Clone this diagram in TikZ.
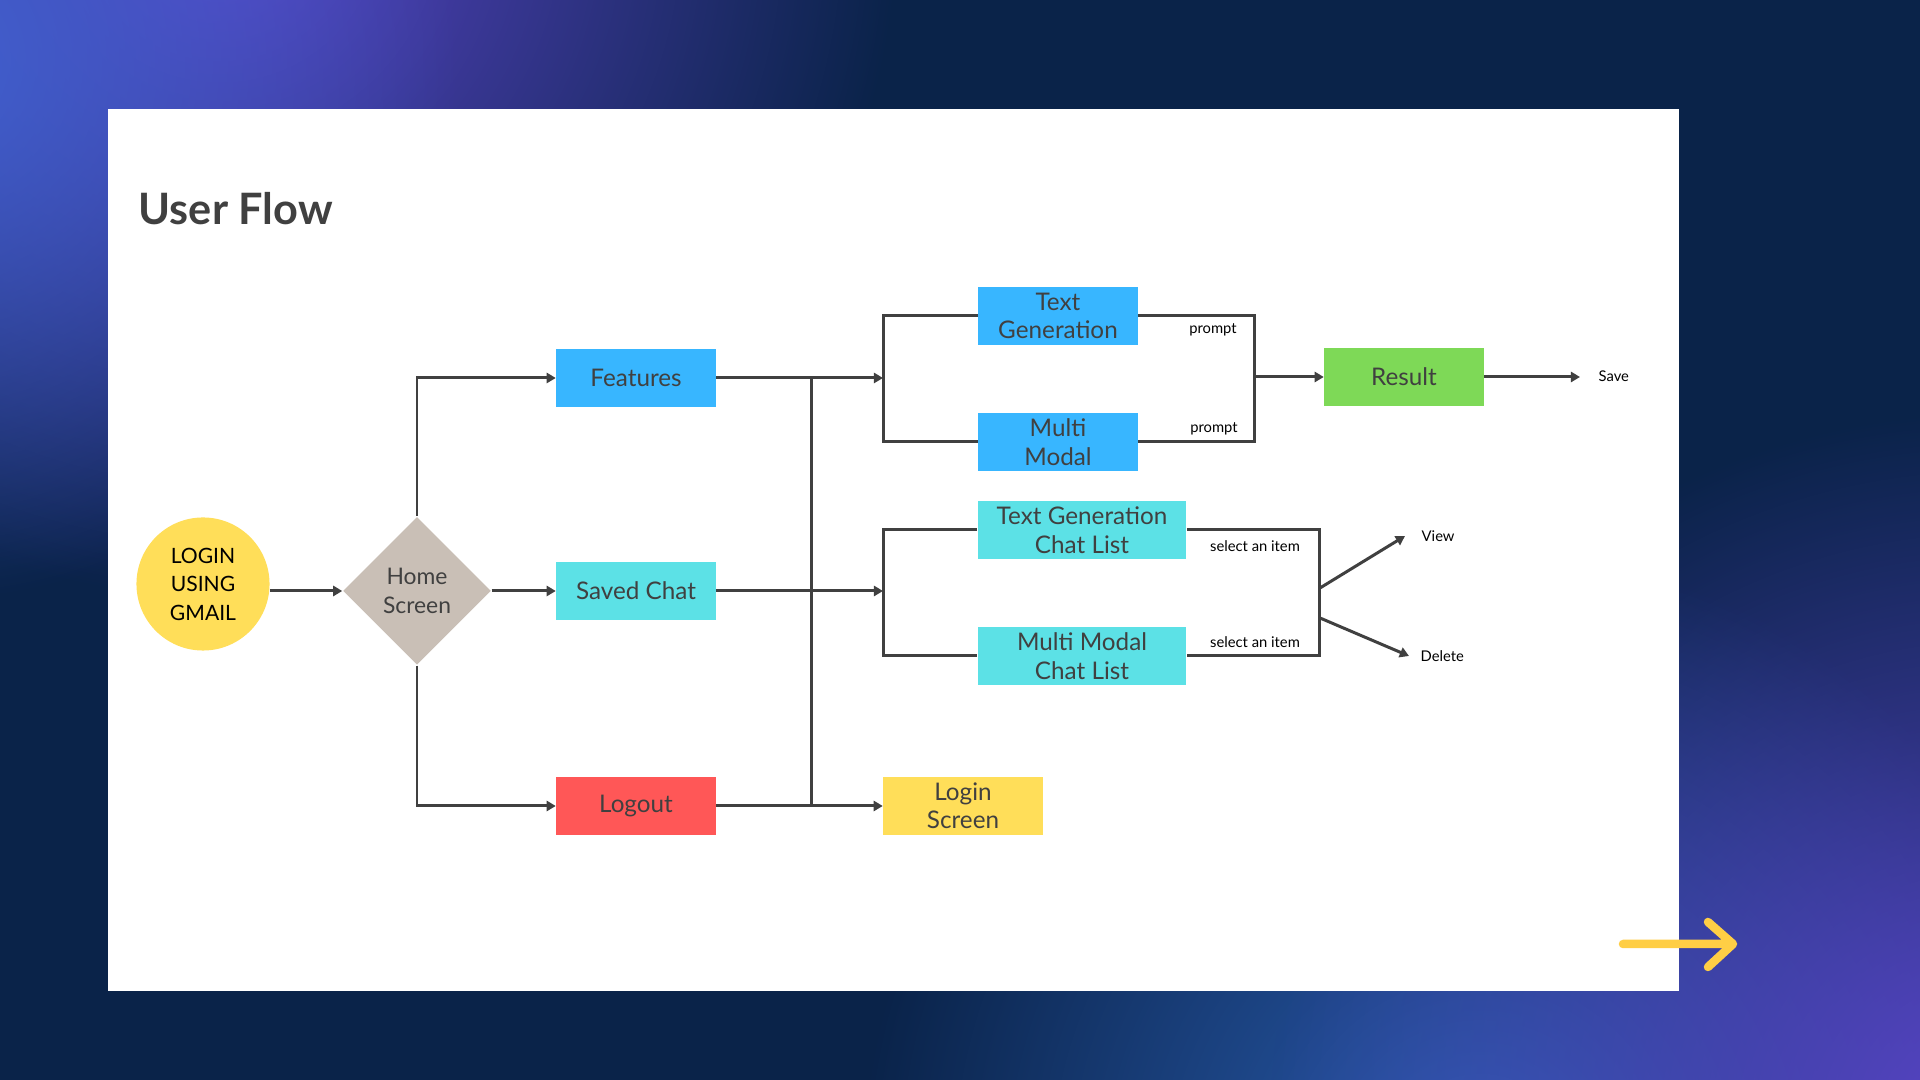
\documentclass[tikz,border=0pt]{standalone}
\usepackage{fontspec}
\setmainfont{Lato}
\usepackage{xcolor}
\usepackage{tikz}
\usetikzlibrary{positioning,arrows.meta,shapes.geometric,fadings}

\definecolor{navybg}{HTML}{0A2349}
\definecolor{glowviolet}{HTML}{5A45C8}
\definecolor{glowblue}{HTML}{4262D2}
\definecolor{glowdeep}{HTML}{2A5DB0}
\definecolor{inkgray}{HTML}{404040}
\definecolor{featblue}{HTML}{38B6FF}
\definecolor{chatcyan}{HTML}{5CE1E6}
\definecolor{logoutred}{HTML}{FF5757}
\definecolor{loginyellow}{HTML}{FFDE59}
\definecolor{resultgreen}{HTML}{7ED957}
\definecolor{homebeige}{HTML}{C9BFB6}
\definecolor{arrowyellow}{HTML}{FFCE45}
\tikzfading[name=glowfade, inner color=transparent!0, outer color=transparent!100]

\begin{document}
\begin{tikzpicture}[x=0.01cm, y=-0.01cm,
	box/.style={rectangle, fill=#1, text=inkgray, minimum width=1.59cm,
		minimum height=0.58cm, inner sep=0pt, align=center,
		font=\fontsize{6.9}{8.1}\selectfont},
	chatbox/.style={box=chatcyan, minimum width=2.08cm},
	line/.style={draw=inkgray, line width=0.85pt},
	flow/.style={line, -{Triangle[length=2.6pt,width=2.9pt]}},
	note/.style={font=\fontsize{4.2}{5}\selectfont, text=black, inner sep=0pt}]
		\useasboundingbox (0,0) rectangle (1920,1080);
		% backdrop with corner glows
		\fill[navybg] (0,0) rectangle (1920,1080);
		\begin{scope}
			\clip (0,0) rectangle (1920,1080);
			\fill[glowviolet, path fading=glowfade] (220,-80) circle (680);
			\fill[glowblue, path fading=glowfade] (-80,60) circle (540);
			\fill[glowdeep, path fading=glowfade] (1480,1170) circle (620);
			\fill[glowviolet, path fading=glowfade] (1990,1130) circle (720);
		\end{scope}
		% white sheet
		\fill[white] (108,109) rectangle (1679,991);
		\node[anchor=base west, inner sep=0pt, text=inkgray,
		font=\fontsize{12.3}{14}\selectfont\bfseries] (title) at (138,225) {User Flow};
		% entry and home
		\node[circle, fill=loginyellow, minimum size=1.33cm, inner sep=0pt,
		align=center, font=\fontsize{6}{8.1}\selectfont] (login) at (203,584)
		{LOGIN\\USING\\GMAIL};
		\node[diamond, fill=homebeige, minimum width=1.48cm, minimum height=1.48cm,
		inner sep=0pt, align=center, text=inkgray,
		font=\fontsize{6.5}{8.1}\selectfont] (home) at (417,591) {Home\\Screen};
		% first column
		\node[box=featblue] (features) at (636,378) {Features};
		\node[box=chatcyan] (saved) at (636,591) {Saved Chat};
		\node[box=logoutred] (logout) at (636,806) {Logout};
		% second column
		\node[box=featblue] (textgen) at (1058,316) {Text\\Generation};
		\node[box=featblue] (multimodal) at (1058,442) {Multi\\Modal};
		\node[chatbox] (tgchat) at (1082,530) {Text Generation\\Chat List};
		\node[chatbox] (mmchat) at (1082,656) {Multi Modal\\Chat List};
		\node[box=loginyellow] (loginscr) at (963,806) {Login\\Screen};
		\node[box=resultgreen] (result) at (1404,377) {Result};
		% small labels
		\node[note] (promptA) at (1213,330) {prompt};
		\node[note] (promptB) at (1214,429) {prompt};
		\node[note] (selectA) at (1255,546) {select an item};
		\node[note] (selectB) at (1255,642) {select an item};
		\node[note, anchor=west] (save) at (1598,376) {Save};
		\node[note, anchor=west] (view) at (1421,536) {View};
		\node[note, anchor=west] (delete) at (1420,656) {Delete};
		% junction points
		\coordinate (trunk) at (811,0);
		\coordinate (splitA) at (883,378);
		\coordinate (joinA) at (1254,377);
		\coordinate (splitB) at (883,591);
		\coordinate (joinB) at (1319,591);
		\coordinate (viewfrom) at (1320,588);
		\coordinate (viewtip) at (1405,536);
		\coordinate (delfrom) at (1320,618);
		\coordinate (deltip) at (1409,656);
		\coordinate (savetip) at (1580,377);
		% connectors from home
		\draw[flow] (login.east |- home.west) -- (home.west);
		\draw[flow] (home.north) |- (features.west);
		\draw[flow] (home.east) -- (saved.west);
		\draw[flow] (home.south) |- (logout.west);
		% trunk and branches
		\draw[line] (trunk |- features.east) -- (trunk |- logout.east);
		\draw[flow] (features.east) -- (splitA);
		\draw[flow] (saved.east) -- (splitB);
		\draw[flow] (logout.east) -- (loginscr.west);
		\draw[line] (textgen.west) -| (splitA) |- (multimodal.west);
		\draw[line] (textgen.east) -| (joinA) |- (multimodal.east);
		\draw[flow] (joinA) -- (joinA -| result.west);
		\draw[flow] (result.east) -- (savetip);
		\draw[line] (tgchat.west) -| (splitB) |- (mmchat.west);
		\draw[line] (tgchat.east) -| (joinB) |- (mmchat.east);
		\draw[flow] (viewfrom) -- (viewtip);
		\draw[flow] (delfrom) -- (deltip);
		% next-page arrow
		\draw[arrowyellow, line width=0.085cm, line cap=round, line join=round]
		(1623,944) -- (1731,944) (1708,922) -- (1733,944) -- (1708,967);
	\end{tikzpicture}
\end{document}
